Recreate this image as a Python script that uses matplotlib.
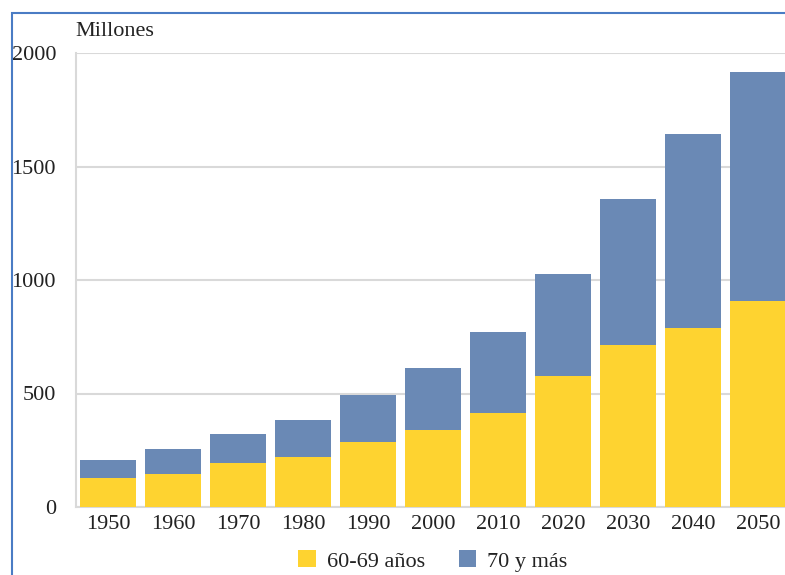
import matplotlib.pyplot as plt
from matplotlib.patches import Rectangle

years = ['1950', '1960', '1970', '1980', '1990', '2000', '2010', '2020', '2030', '2040', '2050']
age_60_69 = [128, 145, 194, 220, 286, 339, 414, 577, 714, 789, 907]
total = [207, 255, 322, 383, 493, 612, 771, 1026, 1357, 1643, 1916]
age_70_plus = [t - a for t, a in zip(total, age_60_69)]

yellow = '#fed330'
blue = '#6a89b5'
grid_col = '#d9d9d9'

plt.rcParams['font.family'] = ['Liberation Serif', 'DejaVu Serif']

fig = plt.figure(figsize=(7.85, 5.75), dpi=100)
ax = fig.add_axes([75.5 / 785, 68 / 575, 715 / 785, 454 / 575])

x = range(len(years))
ax.bar(x, age_60_69, width=0.86, color=yellow, label='60-69 años', zorder=3)
ax.bar(x, age_70_plus, width=0.86, bottom=age_60_69, color=blue, label='70 y más', zorder=3)

ax.set_xlim(-0.5, len(years) - 0.5)
ax.set_ylim(0, 2000)
ax.set_yticks([0, 500, 1000, 1500, 2000])
ax.set_xticks(list(x))
ax.set_xticklabels(years)
ax.tick_params(axis='both', length=0, labelsize=16, colors='#222222')
ax.tick_params(axis='y', pad=14)
ax.tick_params(axis='x', pad=6)
ax.yaxis.grid(True, color=grid_col, linewidth=1.5, zorder=0)
for side in ['top', 'right']:
    ax.spines[side].set_visible(False)
for side in ['left', 'bottom']:
    ax.spines[side].set_color(grid_col)
    ax.spines[side].set_linewidth(1.5)

fig.text(75 / 785, 1 - 32 / 575, 'Millones', fontsize=16, color='#222222', va='center', ha='left')

# legend centred under the bars, just above the bottom edge
fig.legend(loc='center', bbox_to_anchor=(433 / 785, 1 - 561 / 575), ncol=2, frameon=False,
           fontsize=16, handlelength=0.8, handleheight=0.8, columnspacing=1.5,
           handletextpad=0.5, labelcolor='#222222', borderpad=0.1)

# blue frame around the picture (cropped on right and bottom)
fig.patches.append(Rectangle((12 / 785, -0.1), 1.2, 1 - 13 / 575 + 0.1,
                             transform=fig.transFigure, fill=False,
                             edgecolor='#4a7cc4', linewidth=1.5))

fig.savefig('out.png', dpi=100)
